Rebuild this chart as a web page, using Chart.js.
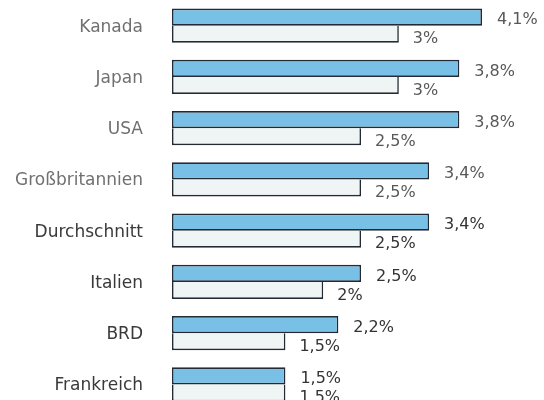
<!DOCTYPE html>
<html>
<head>
<meta charset="utf-8">
<script src="https://cdn.jsdelivr.net/npm/chart.js@4/dist/chart.umd.min.js"></script>
<style>
  html, body { margin: 0; padding: 0; background: #fff; overflow: hidden; }
  canvas { display: block; }
</style>
</head>
<body>
<canvas id="chart" width="544" height="410"></canvas>
<script>
// Laender und Werte (in Prozent)
const countries = ["Kanada", "Japan", "USA", "Großbritannien", "Durchschnitt", "Italien", "BRD", "Frankreich"];
const valuesBlue = [4.1, 3.8, 3.8, 3.4, 3.4, 2.5, 2.2, 1.5];
const valuesLight = [3, 3, 2.5, 2.5, 2.5, 2, 1.5, 1.5];

function formatPercent(v) {
    return (v % 1 === 0 ? String(v) : v.toFixed(1).replace('.', ',')) + '%';
}

// darker text for the lower half, like the scan
function textColor(index) {
    return index < 4 ? '#707070' : '#3a3a3a';
}

const valueLabels = {
    id: 'valueLabels',
    afterDatasetsDraw(chart) {
        const ctx = chart.ctx;
        ctx.save();
        ctx.font = '16px "DejaVu Sans"';
        ctx.textAlign = 'left';
        ctx.textBaseline = 'middle';
        chart.data.datasets.forEach((ds, di) => {
            const meta = chart.getDatasetMeta(di);
            meta.data.forEach((bar, i) => {
                ctx.fillStyle = i < 4 ? '#585858' : '#333';
                const gap = di === 0 ? 15 : 14;
                const dy = di === 0 ? 3 : 5;
                ctx.fillText(formatPercent(ds.data[i]), bar.x + gap, bar.y + dy);
            });
        });
        ctx.restore();
    }
};

new Chart(document.getElementById('chart'), {
    type: 'bar',
    data: {
        labels: countries,
        datasets: [
            {
                data: valuesBlue,
                backgroundColor: '#78c0e6',
                borderColor: '#232a33',
                borderWidth: 1.6,
                borderSkipped: false
            },
            {
                data: valuesLight,
                backgroundColor: '#eef5f4',
                borderColor: '#232a33',
                borderWidth: 1.6,
                borderSkipped: 'top'
            }
        ]
    },
    options: {
        indexAxis: 'y',
        responsive: false,
        devicePixelRatio: 1,
        animation: false,
        layout: { padding: 0 },
        datasets: {
            bar: { categoryPercentage: 0.665, barPercentage: 1 }
        },
        plugins: {
            legend: { display: false },
            tooltip: { enabled: false }
        },
        scales: {
            x: {
                display: false,
                min: 0,
                max: 4.92
            },
            y: {
                grid: { display: false, drawTicks: false },
                border: { display: false },
                ticks: {
                    padding: 29,
                    labelOffset: 1.5,
                    font: { family: '"DejaVu Sans"', size: 17 },
                    color: (c) => textColor(c.index)
                },
                afterFit(scale) {
                    scale.width = 172;
                    // tick padding would otherwise push the chart area down
                    scale.paddingTop = 0;
                    scale.paddingBottom = 0;
                }
            }
        }
    },
    plugins: [valueLabels]
});
</script>
</body>
</html>
